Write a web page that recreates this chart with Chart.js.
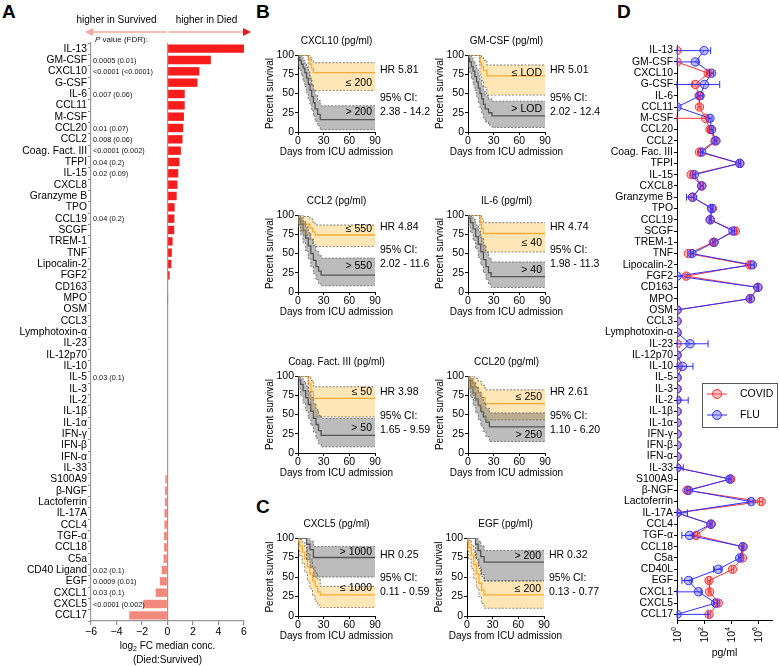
<!DOCTYPE html>
<html>
<head>
<meta charset="utf-8">
<script src="https://cdn.jsdelivr.net/npm/chart.js@4.4.0/dist/chart.umd.min.js"></script>
<style>
  body { margin: 0; background: #fff; width: 779px; height: 666px; position: relative; overflow: hidden; font-family: "Liberation Sans", Arial, sans-serif; }
  canvas { position: absolute; }
  .panel { position: absolute; font-weight: bold; font-size: 19px; line-height: 1; }
</style>
</head>
<body>
<div class="panel" style="left:2px;top:2px">A</div>
<div class="panel" style="left:256px;top:2px">B</div>
<div class="panel" style="left:256px;top:497px">C</div>
<div class="panel" style="left:617px;top:2px">D</div>
<canvas id="fc" width="256" height="666" style="left:0;top:0"></canvas>
<canvas id="conc" width="219" height="666" style="left:560px;top:0"></canvas>
<script>
// ---- Panel A: log2 fold change Died:Survived ----
const fcLabels = ['IL-13', 'GM-CSF', 'CXCL10', 'G-CSF', 'IL-6', 'CCL11', 'M-CSF', 'CCL20', 'CCL2', 'Coag. Fact. III',
  'TFPI', 'IL-15', 'CXCL8', 'Granzyme B', 'TPO', 'CCL19', 'SCGF', 'TREM-1', 'TNF', 'Lipocalin-2', 'FGF2', 'CD163',
  'MPO', 'OSM', 'CCL3', 'Lymphotoxin-α', 'IL-23', 'IL-12p70', 'IL-10', 'IL-5', 'IL-3', 'IL-2', 'IL-1β', 'IL-1α',
  'IFN-γ', 'IFN-β', 'IFN-α', 'IL-33', 'S100A9', 'β-NGF', 'Lactoferrin', 'IL-17A', 'CCL4', 'TGF-α', 'CCL18', 'C5a',
  'CD40 Ligand', 'EGF', 'CXCL1', 'CXCL5', 'CCL17']
const log2FC = [6.05, 3.4, 2.5, 2.35, 1.35, 1.35, 1.29, 1.23, 1.18, 1.05,
  0.94, 0.84, 0.78, 0.72, 0.56, 0.54, 0.53, 0.4, 0.34, 0.3, 0.17, 0.05,
  0.02, 0, 0, 0, 0, 0, 0, 0, 0, 0, 0, 0,
  0, 0, 0, 0, -0.17, -0.2, -0.2, -0.24, -0.24, -0.27, -0.27, -0.31,
  -0.45, -0.6, -0.93, -1.9, -3.0]
const pValues = ['', '0.0005 (0.01)', '<0.0001 (<0.0001)', '', '0.007 (0.06)', '', '', '0.01 (0.07)', '0.008 (0.06)', '<0.0001 (0.002)',
  '0.04 (0.2)', '0.02 (0.09)', '', '', '', '0.04 (0.2)', '', '', '', '', '', '',
  '', '', '', '', '', '', '', '0.03 (0.1)', '', '', '', '',
  '', '', '', '', '', '', '', '', '', '', '', '',
  '0.02 (0.1)', '0.0009 (0.01)', '0.03 (0.1)', '<0.0001 (0.002)', '']
const fcTicks = [-6, -4, -2, 0, 2, 4, 6]

// ---- Panel D: median concentration (pg/ml) ----
const concLabels = ['IL-13', 'GM-CSF', 'CXCL10', 'G-CSF', 'IL-6', 'CCL11', 'M-CSF', 'CCL20', 'CCL2', 'Coag. Fac. III',
  'TFPI', 'IL-15', 'CXCL8', 'Granzyme B', 'TPO', 'CCL19', 'SCGF', 'TREM-1', 'TNF', 'Lipocalin-2', 'FGF2', 'CD163',
  'MPO', 'OSM', 'CCL3', 'Lymphotoxin-α', 'IL-23', 'IL-12p70', 'IL-10', 'IL-5', 'IL-3', 'IL-2', 'IL-1β', 'IL-1α',
  'IFN-γ', 'IFN-β', 'IFN-α', 'IL-33', 'S100A9', 'β-NGF', 'Lactoferrin', 'IL-17A', 'CCL4', 'TGF-α', 'CCL18', 'C5a',
  'CD40L', 'EGF', 'CXCL1', 'CXCL5', 'CCL17']
const covidMedian = [1, 1, 200, 22, 43, 45, 125, 270, 630, 45,
  42000, 11, 66, 14, 400, 280, 20000, 470, 7, 224000, 4.8, 910000,
  250000, 1, 1, 1, 1, 1, 1, 1, 1, 1, 1, 1,
  1, 1, 1, 1, 9100, 5.4, 1600000, 1, 320, 25, 72000, 66000,
  12300, 230, 250, 1100, 230]
const fluMedian = [100, 22, 355, 105, 50, 1, 270, 355, 740, 66,
  42000, 19, 66, 14, 355, 280, 13500, 550, 12.6, 355000, 1, 910000,
  250000, 1, 1, 1, 9.3, 1, 2.6, 1, 1, 1, 1, 1,
  1, 1, 1, 1, 7900, 7, 295000, 1, 320, 8.3, 72000, 42000,
  1100, 7, 38, 710, 1]
const covidLow = [null, null, 150, 14, 35, 35, 1, 220, 520, 38,
  35000, 9, 55, 11, 330, 240, 17000, 400, 6, 190000, 4, 800000,
  210000, null, null, null, null, null, null, null, null, null, null, null,
  null, null, null, null, 7500, 4.5, 1200000, null, 270, 20, 62000, 56000,
  10000, 170, 200, 850, 180]
const covidHigh = [null, null, 280, 35, 55, 60, 160, 330, 760, 55,
  50000, 14, 80, 17, 480, 330, 24000, 560, 9, 270000, 6, 1050000,
  290000, null, null, null, null, null, null, null, null, null, null, null,
  null, null, null, null, 11500, 6.5, 2100000, null, 380, 32, 84000, 78000,
  15000, 300, 310, 1400, 290]
const fluLow = [1, 1, 250, 1, 35, null, 200, 260, 600, 55,
  35000, 15, 50, 5, 300, 230, 11000, 450, 10, 250000, null, 800000,
  210000, null, null, null, 1, null, 1, null, null, 1, null, null,
  null, null, null, 1, 6500, 5.5, 200000, 1, 270, 2.3, 60000, 35000,
  500, 2.3, 1, 500, 1]
const fluHigh = [300, 40, 500, 1400, 80, null, 380, 460, 900, 80,
  50000, 24, 85, 18, 430, 330, 17000, 650, 16, 500000, null, 1050000,
  290000, null, null, null, 195, null, 15, null, null, 6.7, null, null,
  null, null, null, 2.9, 9500, 9, 420000, 6, 380, 14, 84000, 50000,
  1800, 12, 60, 1000, 200]
const concTicks = [1, 100, 10000, 1000000]
const concExponents = ['0', '2', '4', '6']

// ---- Panels B and C: Kaplan-Meier curves (days, percent survival, 95% CI) ----
const cxcl10LoDays = [0, 12, 14, 16, 18, 20, 90]
const cxcl10LoSurv = [100, 100, 95, 88, 82, 77, 77]
const cxcl10LoUpper = [100, 100, 100, 97, 93, 90, 90]
const cxcl10LoLower = [100, 100, 80, 68, 60, 54, 54]
const cxcl10HiDays = [0, 2, 4, 6, 8, 10, 12, 14, 16, 18, 20, 23, 26, 30, 90]
const cxcl10HiSurv = [100, 97, 93, 88, 83, 77, 70, 62, 54, 46, 38, 30, 23, 16, 16]
const cxcl10HiUpper = [100, 100, 99, 97, 93, 89, 84, 77, 70, 62, 55, 48, 41, 34, 34]
const cxcl10HiLower = [100, 86, 80, 73, 66, 59, 51, 43, 36, 28, 21, 14, 8, 3, 3]

const gmcsfLoDays = [0, 14, 16, 18, 22, 26, 90]
const gmcsfLoSurv = [100, 100, 90, 85, 80, 73, 73]
const gmcsfLoUpper = [100, 100, 100, 97, 93, 87, 87]
const gmcsfLoLower = [100, 100, 75, 67, 58, 48, 48]
const gmcsfHiDays = [0, 2, 4, 6, 8, 10, 12, 14, 16, 18, 20, 24, 28, 31, 90]
const gmcsfHiSurv = [100, 96, 91, 85, 79, 72, 65, 57, 50, 43, 36, 30, 25, 21, 21]
const gmcsfHiUpper = [100, 100, 99, 96, 92, 87, 81, 74, 67, 60, 53, 47, 43, 40, 40]
const gmcsfHiLower = [100, 84, 77, 69, 61, 54, 46, 38, 31, 24, 18, 13, 9, 6, 6]

const ccl2LoDays = [0, 3, 6, 14, 17, 20, 24, 90]
const ccl2LoSurv = [100, 96, 92, 88, 83, 78, 74, 74]
const ccl2LoUpper = [100, 100, 100, 98, 95, 91, 87, 87]
const ccl2LoLower = [100, 88, 80, 74, 68, 63, 59, 59]
const ccl2HiDays = [0, 3, 6, 9, 12, 15, 18, 21, 24, 27, 30, 90]
const ccl2HiSurv = [100, 95, 88, 80, 70, 60, 50, 41, 33, 27, 22, 22]
const ccl2HiUpper = [100, 100, 97, 92, 85, 77, 69, 60, 53, 48, 44, 44]
const ccl2HiLower = [100, 85, 75, 64, 53, 43, 33, 24, 16, 11, 8, 8]

const il6LoDays = [0, 14, 16, 18, 20, 90]
const il6LoSurv = [100, 100, 90, 82, 76, 76]
const il6LoUpper = [100, 100, 100, 95, 90, 90]
const il6LoLower = [100, 100, 72, 60, 52, 52]
const il6HiDays = [0, 3, 6, 9, 12, 15, 18, 21, 24, 27, 30, 90]
const il6HiSurv = [100, 96, 90, 82, 72, 62, 52, 42, 33, 25, 20, 20]
const il6HiUpper = [100, 100, 98, 94, 87, 79, 70, 61, 52, 44, 39, 39]
const il6HiLower = [100, 86, 77, 67, 56, 45, 35, 25, 16, 10, 6, 6]

const coagLoDays = [0, 12, 15, 18, 21, 90]
const coagLoSurv = [100, 100, 90, 80, 71, 71]
const coagLoUpper = [100, 100, 100, 94, 86, 86]
const coagLoLower = [100, 100, 70, 57, 47, 47]
const coagHiDays = [0, 3, 6, 9, 12, 15, 18, 21, 24, 27, 30, 90]
const coagHiSurv = [100, 95, 89, 81, 72, 63, 54, 45, 37, 29, 23, 23]
const coagHiUpper = [100, 100, 97, 93, 87, 80, 72, 64, 56, 49, 45, 45]
const coagHiLower = [100, 84, 75, 65, 55, 45, 36, 27, 19, 12, 8, 8]

const ccl20LoDays = [0, 5, 8, 12, 16, 20, 25, 90]
const ccl20LoSurv = [100, 95, 90, 85, 78, 72, 64, 64]
const ccl20LoUpper = [100, 100, 100, 97, 93, 88, 82, 82]
const ccl20LoLower = [100, 84, 75, 68, 60, 52, 43, 43]
const ccl20HiDays = [0, 3, 6, 9, 12, 15, 18, 21, 25, 30, 90]
const ccl20HiSurv = [100, 94, 86, 78, 70, 62, 54, 47, 40, 34, 34]
const ccl20HiUpper = [100, 100, 97, 92, 86, 79, 72, 65, 58, 52, 52]
const ccl20HiLower = [100, 82, 72, 62, 52, 43, 35, 28, 21, 15, 15]

const cxcl5LoDays = [0, 2, 5, 8, 11, 14, 17, 20, 23, 26, 30, 90]
const cxcl5LoSurv = [100, 96, 90, 82, 73, 63, 54, 45, 38, 31, 27, 27]
const cxcl5LoUpper = [100, 100, 98, 94, 88, 80, 72, 63, 55, 47, 38, 38]
const cxcl5LoLower = [100, 86, 77, 67, 56, 45, 35, 26, 19, 14, 11, 11]
const cxcl5HiDays = [0, 10, 14, 18, 22, 90]
const cxcl5HiSurv = [100, 100, 92, 85, 75, 75]
const cxcl5HiUpper = [100, 100, 100, 96, 89, 89]
const cxcl5HiLower = [100, 100, 72, 62, 50, 50]

const egfLoDays = [0, 2, 5, 8, 11, 14, 17, 20, 23, 90]
const egfLoSurv = [100, 96, 88, 78, 66, 54, 42, 33, 27, 27]
const egfLoUpper = [100, 100, 97, 91, 82, 72, 61, 51, 45, 45]
const egfLoLower = [100, 84, 73, 61, 48, 36, 25, 16, 10, 10]
const egfHiDays = [0, 10, 13, 16, 20, 30, 90]
const egfHiSurv = [100, 100, 92, 84, 76, 69, 69]
const egfHiUpper = [100, 100, 100, 96, 90, 84, 84]
const egfHiLower = [100, 100, 74, 64, 53, 45, 45]

const FONT = '"Liberation Sans", Arial, Helvetica, sans-serif'
Chart.defaults.font.family = FONT
Chart.defaults.color = '#000'
Chart.defaults.animation = false
Chart.defaults.responsive = false
Chart.defaults.devicePixelRatio = 1
Chart.defaults.plugins.legend.display = false
Chart.defaults.plugins.tooltip.enabled = false

const orange = { line: '#F39A1F', band: 'rgba(253, 196, 80, 0.42)' }
const gray = { line: '#4a4a4a', band: 'rgba(95, 95, 95, 0.42)' }

// ---------- Panel A ----------
const fcDecor = {
  id: 'fcDecor',
  afterDraw (chart) {
    const { ctx } = chart
    const x = chart.scales.x
    const y = chart.scales.y
    const x0 = x.getPixelForValue(0)
    ctx.save()
    ctx.fillStyle = '#111'
    ctx.textBaseline = 'middle'
    ctx.textAlign = 'left'
    ctx.font = '7.3px ' + FONT
    pValues.forEach((t, i) => {
      if (t) ctx.fillText(t, x.left + 2, y.getPixelForValue(i) + 0.5)
    })
    ctx.font = 'italic 8px ' + FONT
    ctx.fillText('P', x.left + 4, 40)
    const pw = ctx.measureText('P').width
    ctx.font = '8px ' + FONT
    ctx.fillText(' value (FDR):', x.left + 4 + pw, 40)

    // direction arrows
    const ay = 32
    ctx.lineWidth = 1.3
    ctx.strokeStyle = '#F4A79F'
    ctx.beginPath()
    ctx.moveTo(x0 - 1, ay); ctx.lineTo(x.left + 1, ay)
    ctx.moveTo(x0 + 1, ay); ctx.lineTo(x.right - 1, ay)
    ctx.stroke()
    ctx.fillStyle = '#F4A79F'
    ctx.beginPath()
    ctx.moveTo(x.left - 6, ay); ctx.lineTo(x.left + 2, ay - 4); ctx.lineTo(x.left + 2, ay + 4); ctx.closePath()
    ctx.fill()
    ctx.fillStyle = '#E8141B'
    ctx.beginPath()
    ctx.moveTo(x.right + 7, ay); ctx.lineTo(x.right - 1, ay - 4); ctx.lineTo(x.right - 1, ay + 4); ctx.closePath()
    ctx.fill()

    ctx.fillStyle = '#000'
    ctx.font = '10px ' + FONT
    ctx.textAlign = 'center'
    ctx.fillText('higher in Survived', x0 - 51, 20)
    ctx.fillText('higher in Died', x0 + 39, 20)

    // axis title with subscript
    const t1 = 'log'
    const t2 = ' FC median conc.'
    ctx.textAlign = 'left'
    ctx.font = '10px ' + FONT
    const w1 = ctx.measureText(t1).width
    const w3 = ctx.measureText(t2).width
    ctx.font = '7px ' + FONT
    const w2 = ctx.measureText('2').width
    const sx = x0 - (w1 + w2 + w3) / 2
    ctx.font = '10px ' + FONT
    ctx.fillText(t1, sx, 646)
    ctx.fillText(t2, sx + w1 + w2, 646)
    ctx.font = '7px ' + FONT
    ctx.fillText('2', sx + w1, 649)
    ctx.font = '10px ' + FONT
    ctx.textAlign = 'center'
    ctx.fillText('(Died:Survived)', x0, 660)
    ctx.restore()
  }
}

new Chart('fc', {
  type: 'bar',
  data: {
    labels: fcLabels,
    datasets: [{
      data: log2FC,
      backgroundColor: log2FC.map(v => v >= 0 ? '#F81C1C' : '#F2897D'),
      barPercentage: 0.74,
      categoryPercentage: 1
    }]
  },
  options: {
    indexAxis: 'y',
    layout: { padding: { top: 43, right: 12, left: 0, bottom: 0 } },
    scales: {
      x: {
        min: -6,
        max: 6,
        afterBuildTicks: s => { s.ticks = fcTicks.map(v => ({ value: v })) },
        afterFit: s => { s.height = 45 },
        ticks: {
          font: { size: 10.5 },
          padding: 1,
          callback: v => v < 0 ? '\u2212' + Math.abs(v) : String(v)
        },
        grid: {
          color: c => (c.tick && c.tick.value === 0) ? '#9a9a9a' : 'rgba(0,0,0,0)',
          tickColor: '#888',
          tickLength: 4,
          lineWidth: 1.2
        },
        border: { color: '#999', width: 1.2 }
      },
      y: {
        afterFit: s => { s.width = 91 },
        ticks: { font: { size: 10.3 }, padding: 1, autoSkip: false },
        grid: { drawOnChartArea: false, tickLength: 3, color: '#888' },
        border: { color: '#999', width: 1.2 }
      }
    }
  },
  plugins: [fcDecor]
})

// ---------- Panels B / C ----------
const pts = (days, vals) => days.map((d, i) => ({ x: d, y: vals[i] }))

const kmPlots = [
  { title: 'CXCL10 (pg/ml)', left: 298, top: 55, h: 77, hr: 'HR 5.81', ci: '2.38 - 14.2', hrDy: 15, ciDy: 43,
    lo: [cxcl10LoDays, cxcl10LoSurv, cxcl10LoUpper, cxcl10LoLower], hi: [cxcl10HiDays, cxcl10HiSurv, cxcl10HiUpper, cxcl10HiLower],
    loText: '≤ 200', loY: 64, hiText: '> 200', hiY: 26 },
  { title: 'GM-CSF (pg/ml)', left: 468, top: 55, h: 77, hr: 'HR 5.01', ci: '2.02 - 12.4', hrDy: 15, ciDy: 43,
    lo: [gmcsfLoDays, gmcsfLoSurv, gmcsfLoUpper, gmcsfLoLower], hi: [gmcsfHiDays, gmcsfHiSurv, gmcsfHiUpper, gmcsfHiLower],
    loText: '≤ LOD', loY: 76, hiText: '> LOD', hiY: 30 },
  { title: 'CCL2 (pg/ml)', left: 298, top: 215, h: 77, hr: 'HR 4.84', ci: '2.02 - 11.6', hrDy: 12, ciDy: 35,
    lo: [ccl2LoDays, ccl2LoSurv, ccl2LoUpper, ccl2LoLower], hi: [ccl2HiDays, ccl2HiSurv, ccl2HiUpper, ccl2HiLower],
    loText: '≤ 550', loY: 82, hiText: '> 550', hiY: 33 },
  { title: 'IL-6 (pg/ml)', left: 468, top: 215, h: 77, hr: 'HR 4.74', ci: '1.98 - 11.3', hrDy: 12, ciDy: 35,
    lo: [il6LoDays, il6LoSurv, il6LoUpper, il6LoLower], hi: [il6HiDays, il6HiSurv, il6HiUpper, il6HiLower],
    loText: '≤ 40', loY: 64, hiText: '> 40', hiY: 29 },
  { title: 'Coag. Fact. III (pg/ml)', left: 298, top: 376, h: 77, hr: 'HR 3.98', ci: '1.65 - 9.59', hrDy: 16, ciDy: 40,
    lo: [coagLoDays, coagLoSurv, coagLoUpper, coagLoLower], hi: [coagHiDays, coagHiSurv, coagHiUpper, coagHiLower],
    loText: '≤ 50', loY: 79, hiText: '> 50', hiY: 32 },
  { title: 'CCL20 (pg/ml)', left: 468, top: 376, h: 77, hr: 'HR 2.61', ci: '1.10 - 6.20', hrDy: 16, ciDy: 40,
    lo: [ccl20LoDays, ccl20LoSurv, ccl20LoUpper, ccl20LoLower], hi: [ccl20HiDays, ccl20HiSurv, ccl20HiUpper, ccl20HiLower],
    loText: '≤ 250', loY: 72, hiText: '> 250', hiY: 23 },
  { title: 'CXCL5 (pg/ml)', left: 298, top: 538, h: 78, hr: 'HR 0.25', ci: '0.11 - 0.59', hrDy: 17, ciDy: 40,
    lo: [cxcl5LoDays, cxcl5LoSurv, cxcl5LoUpper, cxcl5LoLower], hi: [cxcl5HiDays, cxcl5HiSurv, cxcl5HiUpper, cxcl5HiLower],
    loText: '≤ 1000', loY: 36, hiText: '> 1000', hiY: 82 },
  { title: 'EGF (pg/ml)', left: 467, top: 538, h: 78, hr: 'HR 0.32', ci: '0.13 - 0.77', hrDy: 17, ciDy: 40,
    lo: [egfLoDays, egfLoSurv, egfLoUpper, egfLoLower], hi: [egfHiDays, egfHiSurv, egfHiUpper, egfHiLower],
    loText: '≤ 200', loY: 34, hiText: '> 200', hiY: 77 }
]

function drawKM (p) {
  const padL = 36
  const padT = 22
  const padB = 30
  const padR = 78
  const canvas = document.createElement('canvas')
  canvas.width = padL + 77 + padR
  canvas.height = padT + p.h + padB
  canvas.style.left = (p.left - padL) + 'px'
  canvas.style.top = (p.top - padT) + 'px'
  document.body.appendChild(canvas)

  const dashed = { borderColor: '#6b6b6b', borderWidth: 0.9, borderDash: [2, 1.5], pointRadius: 0, stepped: 'after' }
  const group = (g, col) => [
    { ...dashed, data: pts(g[0], g[2]), fill: '+1', backgroundColor: col.band },
    { ...dashed, data: pts(g[0], g[3]), fill: false }
  ]
  const solid = (g, col) => ({ data: pts(g[0], g[1]), borderColor: col.line, borderWidth: 1.3, pointRadius: 0, stepped: 'after', fill: false })

  const decor = {
    id: 'kmDecor',
    afterDraw (chart) {
      const { ctx, chartArea: a } = chart
      const y = chart.scales.y
      ctx.save()
      ctx.fillStyle = '#000'
      ctx.textBaseline = 'middle'
      ctx.font = '10px ' + FONT
      ctx.textAlign = 'center'
      ctx.fillText(p.title, (a.left + a.right) / 2, a.top - 14)
      ctx.fillText('Days from ICU admission', (a.left + a.right) / 2, a.bottom + 20)
      ctx.save()
      ctx.translate(a.left - 28, (a.top + a.bottom) / 2)
      ctx.rotate(-Math.PI / 2)
      ctx.fillText('Percent survival', 0, 0)
      ctx.restore()
      ctx.font = '10.5px ' + FONT
      ctx.textAlign = 'right'
      ctx.fillText(p.loText, a.right - 3, y.getPixelForValue(p.loY))
      ctx.fillText(p.hiText, a.right - 3, y.getPixelForValue(p.hiY))
      ctx.textAlign = 'left'
      ctx.fillText(p.hr, a.right + 5, a.top + p.hrDy)
      ctx.fillText('95% CI:', a.right + 5, a.top + p.ciDy)
      ctx.fillText(p.ci, a.right + 5, a.top + p.ciDy + 14)
      ctx.restore()
    }
  }

  new Chart(canvas, {
    type: 'line',
    data: {
      datasets: [
        ...group(p.hi, gray),
        ...group(p.lo, orange),
        solid(p.hi, gray),
        solid(p.lo, orange)
      ]
    },
    options: {
      layout: { padding: { top: padT, right: padR, left: 0, bottom: 0 } },
      scales: {
        x: {
          type: 'linear',
          min: 0,
          max: 90,
          afterFit: s => { s.height = padB },
          ticks: { stepSize: 30, font: { size: 10.5 }, padding: 0 },
          grid: { drawOnChartArea: false, tickLength: 3, color: '#000' },
          border: { color: '#000' }
        },
        y: {
          min: 0,
          max: 100,
          afterFit: s => { s.width = padL },
          ticks: { stepSize: 25, font: { size: 10.5 }, padding: 1 },
          grid: { drawOnChartArea: false, tickLength: 3, color: '#000' },
          border: { color: '#000' }
        }
      }
    },
    plugins: [decor]
  })
}

kmPlots.forEach(drawKM)

// ---------- Panel D ----------
const series = [
  { name: 'COVID', med: covidMedian, lo: covidLow, hi: covidHigh, line: '#FF3030', fill: 'rgba(255, 110, 110, 0.45)' },
  { name: 'FLU', med: fluMedian, lo: fluLow, hi: fluHigh, line: '#3030FF', fill: 'rgba(110, 110, 255, 0.45)' }
]

const concDecor = {
  id: 'concDecor',
  afterDatasetsDraw (chart) {
    const { ctx } = chart
    const x = chart.scales.x
    const y = chart.scales.y
    ctx.save()
    ctx.lineWidth = 1
    series.forEach(s => {
      ctx.strokeStyle = s.line
      s.med.forEach((m, i) => {
        if (s.lo[i] === null) return
        const yy = y.getPixelForValue(i)
        const x1 = x.getPixelForValue(s.lo[i])
        const x2 = x.getPixelForValue(s.hi[i])
        ctx.beginPath()
        ctx.moveTo(x1, yy); ctx.lineTo(x2, yy)
        ctx.moveTo(x1, yy - 3.5); ctx.lineTo(x1, yy + 3.5)
        ctx.moveTo(x2, yy - 3.5); ctx.lineTo(x2, yy + 3.5)
        ctx.stroke()
      })
    })
    ctx.restore()
  },
  afterDraw (chart) {
    const { ctx, chartArea: a } = chart
    const x = chart.scales.x
    ctx.save()
    // rotated 10^n tick labels
    ctx.fillStyle = '#000'
    ctx.textBaseline = 'middle'
    concTicks.forEach((v, i) => {
      ctx.save()
      ctx.translate(x.getPixelForValue(v), a.bottom + 7)
      ctx.rotate(-Math.PI / 2)
      ctx.font = '7px ' + FONT
      const we = ctx.measureText(concExponents[i]).width
      ctx.font = '10.5px ' + FONT
      const wb = ctx.measureText('10').width
      ctx.textAlign = 'left'
      ctx.fillText('10', -(wb + we), 1)
      ctx.font = '7px ' + FONT
      ctx.fillText(concExponents[i], -we, -3)
      ctx.restore()
    })
    ctx.font = '10.5px ' + FONT
    ctx.textAlign = 'center'
    ctx.fillText('pg/ml', (a.left + a.right) / 2, 653)

    // legend box
    const bx = 142
    const by = 383
    ctx.strokeStyle = '#555'
    ctx.lineWidth = 1
    ctx.strokeRect(bx + 0.5, by + 0.5, 75, 44)
    ctx.textAlign = 'left'
    series.forEach((s, k) => {
      const ly = by + 11 + k * 21
      ctx.strokeStyle = s.line
      ctx.beginPath(); ctx.moveTo(bx + 5, ly); ctx.lineTo(bx + 25, ly); ctx.stroke()
      ctx.fillStyle = s.fill
      ctx.beginPath(); ctx.arc(bx + 15, ly, 4.5, 0, Math.PI * 2); ctx.fill(); ctx.stroke()
      ctx.fillStyle = '#000'
      ctx.fillText(s.name, bx + 38, ly)
    })
    ctx.restore()
  }
}

new Chart('conc', {
  type: 'line',
  data: {
    labels: concLabels,
    datasets: series.map((s, k) => ({
      label: s.name,
      data: s.med,
      borderColor: s.line,
      backgroundColor: s.fill,
      pointBackgroundColor: s.fill,
      pointBorderColor: s.line,
      pointRadius: 4.2,
      pointBorderWidth: 1,
      borderWidth: 1,
      order: 1 - k
    }))
  },
  options: {
    indexAxis: 'y',
    layout: { padding: { top: 45, right: 7, left: 0, bottom: 0 } },
    scales: {
      x: {
        type: 'logarithmic',
        min: 1,
        max: 10000000,
        afterBuildTicks: s => { s.ticks = concTicks.map(v => ({ value: v })) },
        afterFit: s => { s.height = 46 },
        ticks: { display: false },
        grid: { drawOnChartArea: false, tickLength: 4, color: '#000' },
        border: { color: '#000' }
      },
      y: {
        type: 'category',
        offset: true,
        afterFit: s => { s.width = 117 },
        ticks: { font: { size: 10.4 }, padding: 1, autoSkip: false },
        grid: { drawOnChartArea: false, tickLength: 3, color: '#000' },
        border: { color: '#000' }
      }
    }
  },
  plugins: [concDecor]
})
</script>
</body>
</html>
